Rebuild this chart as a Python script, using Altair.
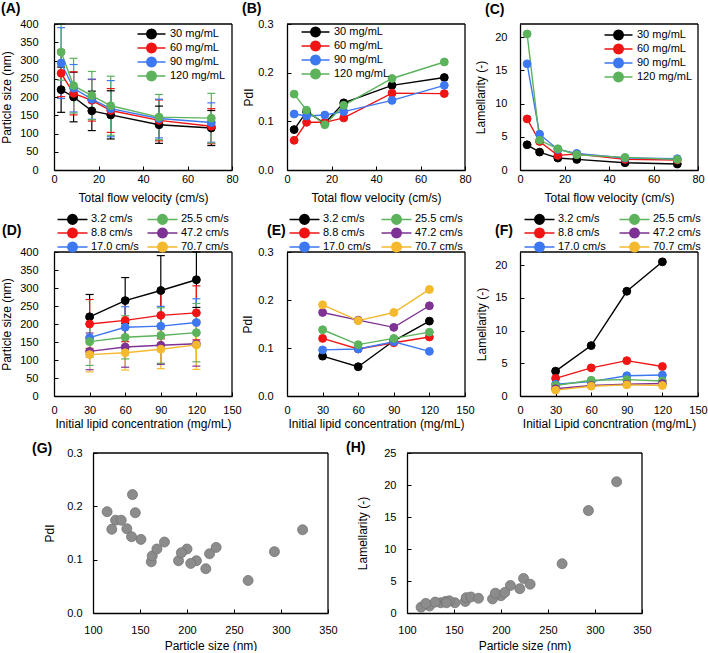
import altair as alt
import pandas as pd

FONT = "Liberation Sans"

# ---------------- data ----------------
FLOWS = [3.2, 8.8, 17.0, 25.5, 47.2, 70.7]
FLOW_LABELS = ["3.2 cm/s", "8.8 cm/s", "17.0 cm/s", "25.5 cm/s", "47.2 cm/s", "70.7 cm/s"]
CONCS = [30, 60, 90, 120]
CONC_LABELS = ["30 mg/mL", "60 mg/mL", "90 mg/mL", "120 mg/mL"]

SIZE = [
    [220, 265, 293, 323],
    [200, 210, 224, 231],
    [162, 191, 194, 204],
    [151, 163, 168, 176],
    [124, 136, 141, 145],
    [115, 120, 130, 142],
]
SIZE_SD = [
    [62, 64, 97, 77],
    [68, 59, 65, 75],
    [54, 57, 55, 66],
    [66, 60, 77, 81],
    [51, 56, 53, 62],
    [48, 48, 54, 68],
]
PDI = [
    [0.083, 0.061, 0.115, 0.156],
    [0.120, 0.098, 0.111, 0.123],
    [0.096, 0.098, 0.113, 0.093],
    [0.138, 0.107, 0.120, 0.133],
    [0.174, 0.158, 0.143, 0.188],
    [0.190, 0.157, 0.174, 0.222],
]
LAM = [
    [3.8, 7.7, 16.0, 20.5],
    [2.7, 4.3, 5.4, 4.5],
    [1.8, 2.2, 3.1, 3.2],
    [1.6, 2.4, 2.5, 2.3],
    [1.1, 1.6, 1.8, 1.9],
    [0.9, 1.5, 1.7, 1.6],
]

CONC_COLORS = ["#000000", "#f01414", "#3d78f2", "#5cb35c"]
FLOW_COLORS = ["#000000", "#f01414", "#3d78f2", "#5cb35c", "#7e3294", "#f5b92e"]

rows = []
for i, f in enumerate(FLOWS):
    for j, c in enumerate(CONCS):
        rows.append(dict(flow=f, conc=c, size=SIZE[i][j], sd=SIZE_SD[i][j],
                         pdi=PDI[i][j], lam=LAM[i][j],
                         conc_lab=CONC_LABELS[j], flow_lab=FLOW_LABELS[i]))
df = pd.DataFrame(rows)

# legend symbol: short line with a (16-gon) dot in the middle
DOT = ("M1,0L0.924,0.383L0.707,0.707L0.383,0.924L0,1L-0.383,0.924L-0.707,0.707"
       "L-0.924,0.383L-1,0L-0.924,-0.383L-0.707,-0.707L-0.383,-0.924L0,-1"
       "L0.383,-0.924L0.707,-0.707L0.924,-0.383Z")
PATH1 = "M-2.95,0H2.95" + DOT
PATH2 = "M-3.16,0H3.16" + DOT


def make_legend(path, lx, ly, rowpad, columns=None, colpad=None):
    kw = dict(orient="none", legendX=lx, legendY=ly, title=None,
              symbolType=path, symbolSize=90, symbolStrokeWidth=1.5,
              labelFont=FONT, labelFontSize=11, labelColor="#000",
              labelOffset=13, rowPadding=rowpad)
    if columns is not None:
        kw["columns"] = columns
        kw["columnPadding"] = colpad
    return alt.Legend(**kw)


def panel(x, y, grp, grp_domain, colors, xdom, xticks, ydom, yticks, yfmt,
          xtitle, ytitle, label, lbl_x, lbl_y, width, height,
          yrange=None, xrange_=None, yoff=0, x_lpad=3, y_lpad=14,
          xtitle_y=27, ytitle_x=-45, legend=None, err=False, scatter=False):
    xs = dict(domain=xdom, nice=False, zero=False)
    if xrange_ is not None:
        xs["range"] = xrange_
    ys = dict(domain=ydom, nice=False, zero=False)
    if yrange is not None:
        ys["range"] = yrange
    xscale = alt.Scale(**xs)
    yscale = alt.Scale(**ys)

    common = dict(ticks=True, tickSize={"expr": "-4"}, tickColor="#000",
                  tickWidth=1, domain=True, domainColor="#000",
                  domainWidth=1.3, grid=False, labelFlush=False,
                  labelOverlap=False, titleBaseline="middle")
    xaxis = alt.Axis(orient="bottom", values=xticks, labelPadding=x_lpad + 4,
                     title=xtitle, titleY=xtitle_y, **common)
    yaxis = alt.Axis(orient="left", values=yticks, format=yfmt,
                     labelPadding=y_lpad + 4, title=ytitle, titleX=ytitle_x,
                     offset=yoff, **common)

    def X(f):
        return alt.X(f, scale=xscale, axis=xaxis)

    def Y(f):
        return alt.Y(f, scale=yscale, axis=yaxis)

    base = alt.Chart(df)
    one = base.transform_filter("datum.flow == 3.2 && datum.conc == 30")

    layers = []
    if scatter:
        pts = base.mark_circle(size=100, color="#8c8c8c", stroke="#737373",
                               strokeWidth=0.8, opacity=1).encode(
            x=X(x), y=Y(y))
        layers.append(pts)
    else:
        cs = alt.Scale(domain=grp_domain, range=colors)

        def S():
            return alt.Stroke(grp, scale=cs, legend=legend)

        def Fl():
            return alt.Fill(grp, scale=cs, legend=legend)

        if err:
            eb = base.transform_calculate(lo="datum.size - datum.sd",
                                          hi="datum.size + datum.sd")
            rule = eb.mark_rule(strokeWidth=1.2).encode(
                x=X(x), y=Y("lo:Q"), y2=alt.Y2("hi"), stroke=S())
            layers.append(rule)
            for fld in ["lo:Q", "hi:Q"]:
                layers.append(eb.mark_tick(orient="horizontal", size=8,
                                           thickness=1.2, opacity=1).encode(
                    x=X(x), y=Y(fld), fill=Fl()))
        line = base.mark_line(strokeWidth=1.4).encode(
            x=X(x), y=Y(y), stroke=S())
        pts = base.mark_point(filled=True, size=62, opacity=1,
                              strokeWidth=1).encode(
            x=X(x), y=Y(y), fill=Fl(), stroke=S())
        layers += [line, pts]

    # top and right sides of the frame (left/bottom come from the axis domains)
    top = one.mark_rule(color="#000", strokeWidth=1.3).encode(
        x=alt.X(datum=xdom[0], type="quantitative", scale=xscale, axis=xaxis),
        x2=alt.X2(datum=xdom[1]),
        y=alt.Y(datum=ydom[1], type="quantitative", scale=yscale, axis=yaxis),
    )
    right = one.mark_rule(color="#000", strokeWidth=1.3).encode(
        x=alt.X(datum=xdom[1], type="quantitative", scale=xscale, axis=xaxis),
        y=alt.Y(datum=ydom[0], type="quantitative", scale=yscale, axis=yaxis),
        y2=alt.Y2(datum=ydom[1]),
    )
    lab = one.mark_text(text=label, align="left", baseline="alphabetic",
                        fontSize=14, fontWeight="bold", font=FONT,
                        color="#000").encode(x=alt.value(lbl_x),
                                             y=alt.value(lbl_y))
    layers += [top, right, lab]

    return alt.layer(*layers).properties(width=width, height=height)


W = 178
H1 = 146
H2 = 169
YR2 = [169, 25]
TFV = "Total flow velocity (cm/s)"

A = panel("flow:Q", "size:Q", "conc_lab:N", CONC_LABELS, CONC_COLORS,
          [0, 80], [0, 20, 40, 60, 80], [0, 400], list(range(0, 401, 50)), "d",
          TFV, "Particle size (nm)", "(A)", -53, -11, W, H1,
          y_lpad=16, ytitle_x=-48,
          legend=make_legend(PATH1, 92, 4.5, -3), err=True)
B = panel("flow:Q", "pdi:Q", "conc_lab:N", CONC_LABELS, CONC_COLORS,
          [0, 80], [0, 20, 40, 60, 80], [0, 0.3], [0, 0.1, 0.2, 0.3], ".1f",
          TFV, "PdI", "(B)", -45, -11, W, H1,
          y_lpad=14, ytitle_x=-39,
          legend=make_legend(PATH1, 23, 2.5, -4))
C = panel("flow:Q", "lam:Q", "conc_lab:N", CONC_LABELS, CONC_COLORS,
          [0, 80], [0, 20, 40, 60, 80], [0, 22], [0, 5, 10, 15, 20], "d",
          TFV, "Lamellarity (-)", "(C)", -35, -10, W, H1,
          y_lpad=13, ytitle_x=-40,
          legend=make_legend(PATH1, 93, 5.5, -3))
D = panel("conc:Q", "size:Q", "flow_lab:N", FLOW_LABELS, FLOW_COLORS,
          [0, 150], [0, 30, 60, 90, 120, 150], [0, 400], list(range(0, 401, 50)), "d",
          "Initial lipid concentration (mg/mL)", "Particle size (nm)", "(D)", -52, 8,
          W, H2, yrange=YR2, x_lpad=8, y_lpad=16, ytitle_x=-48,
          legend=make_legend(PATH2, 13, -13.5, -7, 2, 5), err=True)
E = panel("conc:Q", "pdi:Q", "flow_lab:N", FLOW_LABELS, FLOW_COLORS,
          [0, 150], [0, 30, 60, 90, 120, 150], [0, 0.3], [0, 0.1, 0.2, 0.3], ".1f",
          "Initial lipid concentration (mg/mL)", "PdI", "(E)", -20, 8,
          W, H2, yrange=YR2, x_lpad=8, y_lpad=14, ytitle_x=-40,
          legend=make_legend(PATH2, 12, -13.5, -7, 2, 7))
F = panel("conc:Q", "lam:Q", "flow_lab:N", FLOW_LABELS, FLOW_COLORS,
          [0, 150], [0, 30, 60, 90, 120, 150], [0, 22], [0, 5, 10, 15, 20], "d",
          "Initial Lipid concntration (mg/mL)", "Lamellarity (-)", "(F)", -25, 8,
          W, H2, yrange=YR2, x_lpad=8, y_lpad=13, ytitle_x=-39,
          legend=make_legend(PATH2, 14, -13.5, -7, 2, 10))
G = panel("size:Q", "pdi:Q", None, None, None,
          [100, 350], [100, 150, 200, 250, 300, 350], [0, 0.3], [0, 0.1, 0.2, 0.3], ".1f",
          "Particle size (nm)", "PdI", "(G)", -22, 0, W, 160,
          xrange_=[39, 274], yoff=-39, x_lpad=11, y_lpad=11, xtitle_y=32,
          ytitle_x=-44, scatter=True)
Hh = panel("size:Q", "lam:Q", None, None, None,
           [100, 350], [100, 150, 200, 250, 300, 350], [0, 25], [0, 5, 10, 15, 20, 25], "d",
           "Particle size (nm)", "Lamellarity (-)", "(H)", 59, -1, W, 160,
           xrange_=[120, 355], yoff=-120, x_lpad=11, y_lpad=11, xtitle_y=32,
           ytitle_x=-45, scatter=True)

chart = alt.concat(A, B, C, D, E, F, G, Hh, columns=3,
                   spacing={"row": 57, "column": 55},
                   bounds="flush", align="each").resolve_scale(
    fill="independent", stroke="independent",
).resolve_legend(
    fill="independent", stroke="independent",
).properties(
    padding={"left": 0, "top": 2, "right": 0, "bottom": 0},
    background="white",
).configure_view(stroke=None).configure_axis(
    labelFont=FONT, titleFont=FONT, labelFontSize=11, titleFontSize=12,
    labelColor="#000", titleColor="#000", titleFontWeight="normal",
)

chart.save("out.html", embed_options={"renderer": "svg", "actions": False})
